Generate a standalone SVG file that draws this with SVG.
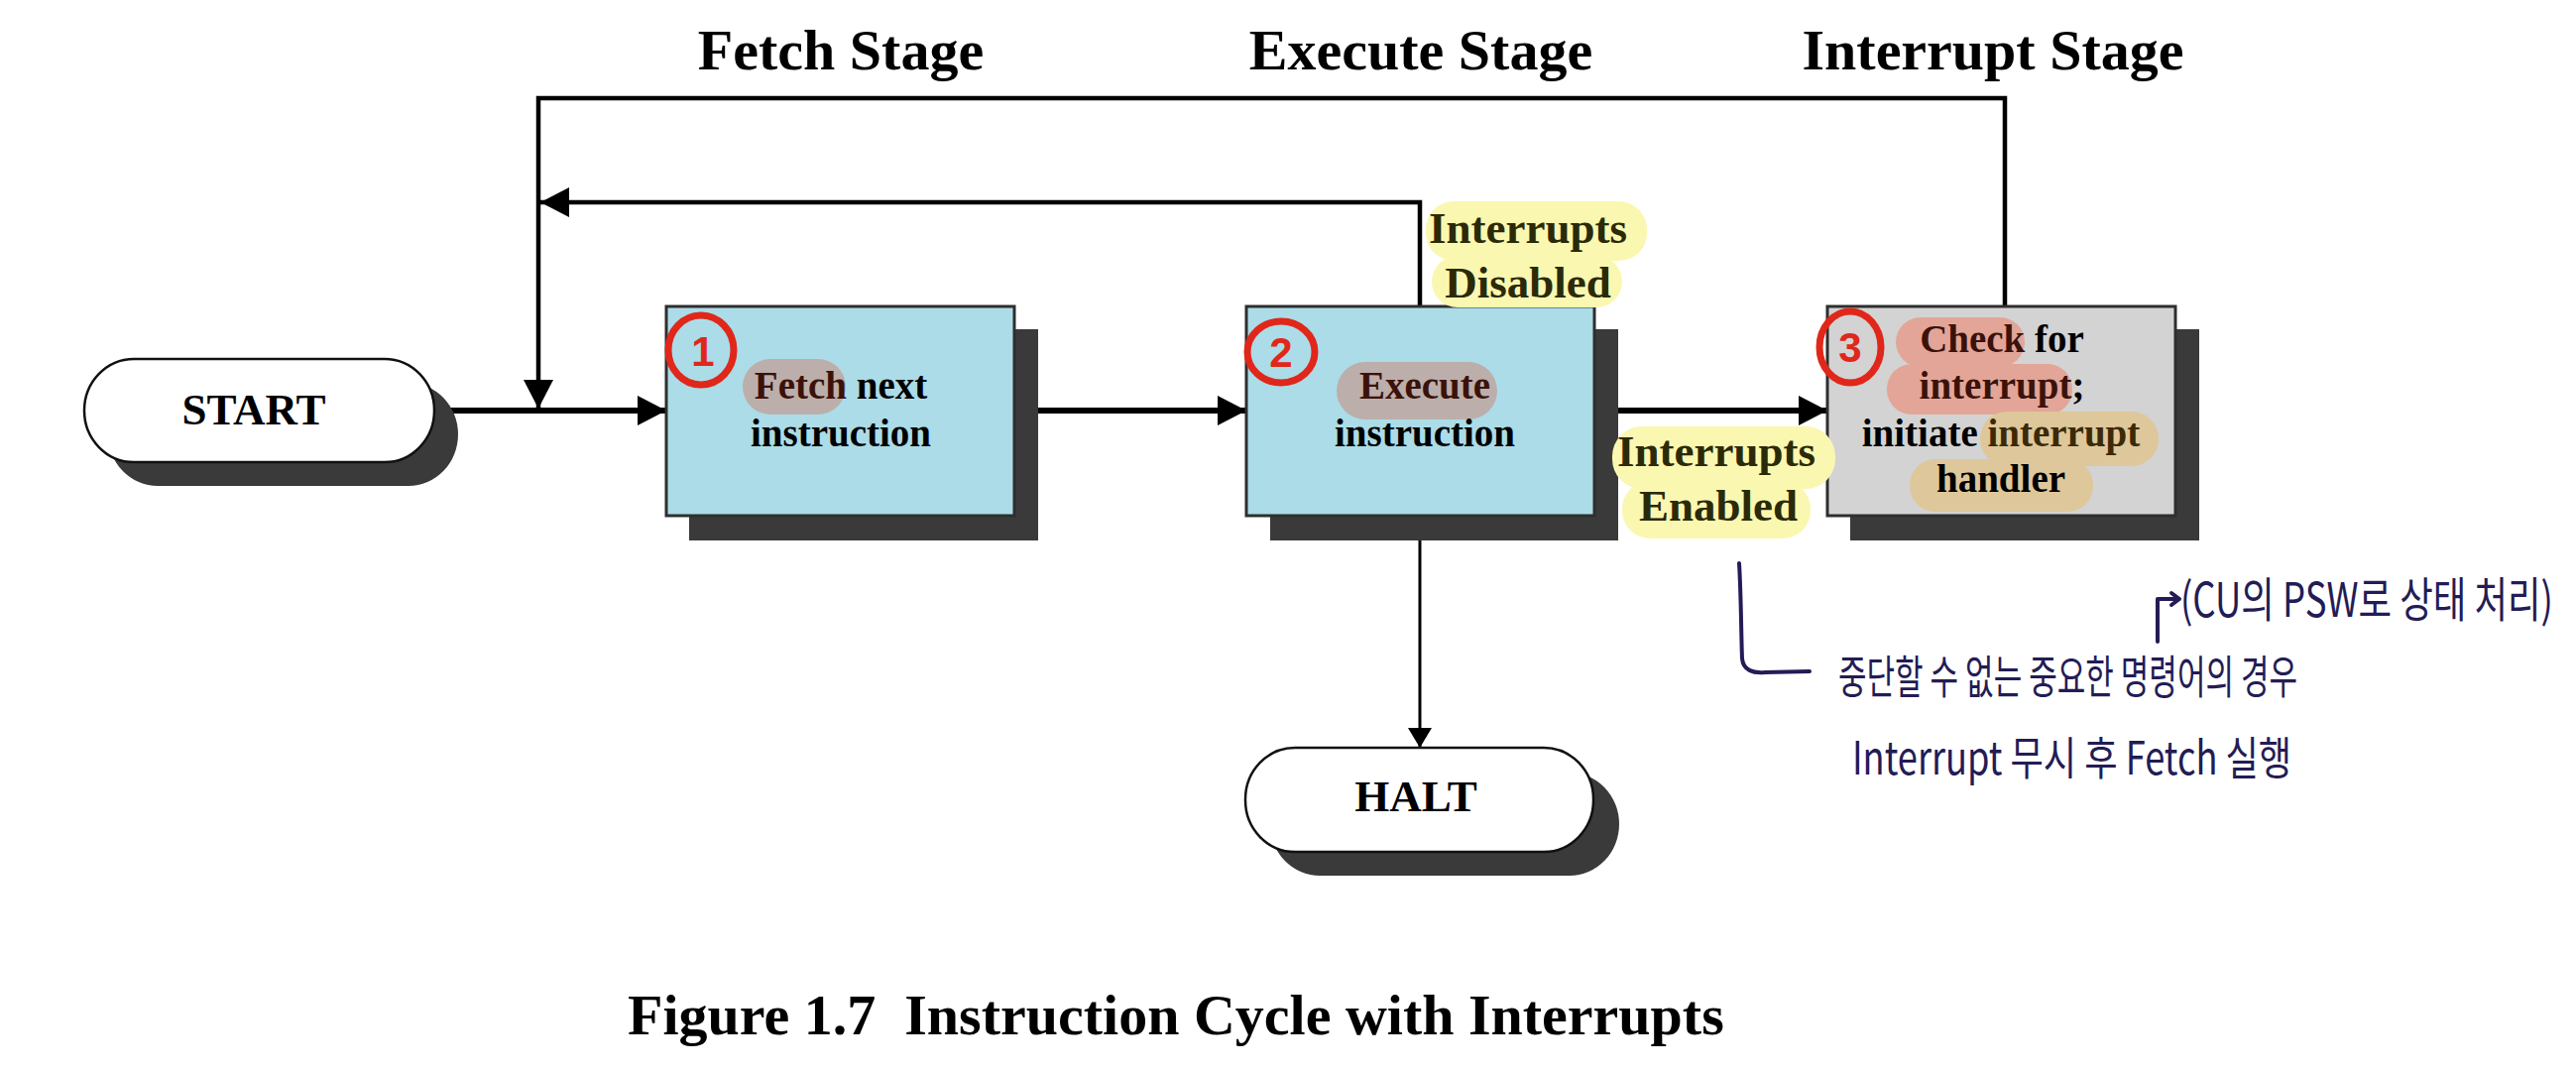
<svg xmlns="http://www.w3.org/2000/svg" width="2598" height="1082" viewBox="0 0 2598 1082">
<style>
.stage{font-family:"Liberation Serif","Times New Roman",serif;font-weight:bold;font-size:58px;fill:#000;text-anchor:middle}
.lbl{font-family:"Liberation Serif","Times New Roman",serif;font-weight:bold;font-size:39px;fill:#000;text-anchor:middle}
.term{font-family:"Liberation Serif","Times New Roman",serif;font-weight:bold;font-size:45px;fill:#000;text-anchor:middle}
.cond{font-family:"Liberation Serif","Times New Roman",serif;font-weight:bold;font-size:45px;fill:#2b2a08;text-anchor:middle}
.cap{font-family:"Liberation Serif","Times New Roman",serif;font-weight:bold;font-size:58px;fill:#000}
.shadow{fill:#3a3a3a}
.boxb{fill:#abdce8;stroke:#2e2e2e;stroke-width:3}
.boxg{fill:#d3d3d3;stroke:#2e2e2e;stroke-width:3}
.termshape{fill:#fff;stroke:#111;stroke-width:2.5}
.hl-brown{fill:#bcaeab}
.hl-red{fill:#e2a598}
.hl-orange{fill:#dec79a}
.hl-yellow{fill:#faf7b0}
.circ{fill:none;stroke:#e0271a;stroke-width:7}
.num{font-family:"Liberation Sans",Arial,sans-serif;font-weight:bold;font-size:42px;fill:#e0271a;text-anchor:middle}
.hand{font-family:"Noto Sans CJK KR","Noto Sans",sans-serif;font-weight:400;fill:#231c55}
.hw{fill:none;stroke:#231c55;stroke-width:4;stroke-linecap:round;stroke-linejoin:round}
.flow{fill:none;stroke:#000;stroke-width:6}
.ret{fill:none;stroke:#000;stroke-width:4.5}
.thin{fill:none;stroke:#000;stroke-width:3}
</style>
<defs>
<marker id="arr" markerUnits="userSpaceOnUse" markerWidth="29" markerHeight="30" refX="29" refY="15" orient="auto">
<path d="M0,0 L29,15 L0,30 Z" fill="#000"/>
</marker>
<marker id="arrS" markerUnits="userSpaceOnUse" markerWidth="20" markerHeight="24" refX="20" refY="12" orient="auto">
<path d="M0,0 L20,12 L0,24 Z" fill="#000"/>
</marker>
</defs>
<rect width="2598" height="1082" fill="#fff"/>

<g id="stage-titles">
<text class="stage" x="848" y="70">Fetch Stage</text>
<text class="stage" x="1433" y="70">Execute Stage</text>
<text class="stage" x="2010" y="70">Interrupt Stage</text>
</g>

<g id="connectors">
<path class="flow" d="M438,414 H672" marker-end="url(#arr)"/>
<path class="flow" d="M1023,414 H1257" marker-end="url(#arr)"/>
<path class="flow" d="M1608,414 H1843" marker-end="url(#arr)"/>
<path class="thin" d="M1432,520 V754" marker-end="url(#arrS)"/>
<path class="ret" d="M1432,309 V204 H545" marker-end="url(#arr)"/>
<path class="ret" d="M2022,309 V99 H543 V412" marker-end="url(#arr)"/>
</g>

<g id="start">
<rect class="shadow" x="109" y="386" width="353" height="104" rx="50" ry="52"/>
<rect class="termshape" x="85" y="362" width="353" height="104" rx="50" ry="52"/>
<text class="term" x="256" y="428">START</text>
</g>

<g id="fetch">
<rect class="shadow" x="695" y="332" width="352" height="213"/>
<rect class="boxb" x="672" y="309" width="351" height="211"/>
<rect class="hl-brown" x="749" y="362" width="104" height="56" rx="28"/>
<text class="lbl" x="848" y="402"><tspan fill="#3b120a">Fetch</tspan> next</text>
<text class="lbl" x="848" y="450">instruction</text>
<ellipse class="circ" cx="707" cy="353" rx="33" ry="35"/>
<text class="num" x="709" y="369">1</text>
</g>

<g id="execute">
<rect class="shadow" x="1281" y="332" width="351" height="213"/>
<rect class="boxb" x="1257" y="309" width="351" height="211"/>
<rect class="hl-brown" x="1348" y="365" width="162" height="58" rx="29"/>
<text class="lbl" x="1437" y="402"><tspan fill="#3b120a">Execute</tspan></text>
<text class="lbl" x="1437" y="450">instruction</text>
<ellipse class="circ" cx="1292" cy="355" rx="34" ry="31"/>
<text class="num" x="1292" y="370">2</text>
</g>

<g id="interrupt">
<rect class="shadow" x="1866" y="332" width="352" height="213"/>
<rect class="boxg" x="1843" y="309" width="351" height="211"/>
<rect class="hl-red" x="1912" y="320" width="130" height="50" rx="25"/>
<rect class="hl-red" x="1903" y="367" width="187" height="51" rx="25"/>
<rect class="hl-orange" x="1997" y="415" width="180" height="55" rx="27"/>
<rect class="hl-orange" x="1926" y="463" width="185" height="53" rx="26"/>
<text class="lbl" x="2019" y="355"><tspan fill="#3b120a">Check</tspan> for</text>
<text class="lbl" x="2019" y="402"><tspan fill="#3b120a">interrupt</tspan>;</text>
<text class="lbl" x="2018" y="450">initiate <tspan fill="#3a2a08">interrupt</tspan></text>
<text class="lbl" x="2018" y="496" fill="#3a2a08">handler</text>
<ellipse class="circ" cx="1866" cy="350" rx="31" ry="36"/>
<text class="num" x="1866" y="365">3</text>
</g>

<g id="halt">
<rect class="shadow" x="1281" y="779" width="352" height="104" rx="50" ry="52"/>
<rect class="termshape" x="1256" y="754" width="351" height="105" rx="50" ry="52"/>
<text class="term" x="1428" y="818">HALT</text>
</g>

<g id="label-disabled">
<rect class="hl-yellow" x="1438" y="203" width="223" height="60" rx="28"/>
<rect class="hl-yellow" x="1444" y="258" width="192" height="52" rx="26"/>
<text class="cond" x="1541" y="245">Interrupts</text>
<text class="cond" x="1541" y="300">Disabled</text>
</g>

<g id="label-enabled">
<rect class="hl-yellow" x="1626" y="430" width="225" height="63" rx="30"/>
<rect class="hl-yellow" x="1636" y="485" width="190" height="58" rx="28"/>
<text class="cond" x="1731" y="470">Interrupts</text>
<text class="cond" x="1733" y="525">Enabled</text>
</g>

<g id="annotations">
<path class="hw" d="M1754,568 C1756,600 1756,640 1757,664 C1758,676 1768,679 1780,678 L1825,677"/>
<text class="hand" transform="translate(1854,699) scale(0.63,1)" x="0" y="0" font-size="46" textLength="735" lengthAdjust="spacingAndGlyphs">중단할 수 없는 중요한 명령어의 경우</text>
<text class="hand" transform="translate(1868,781) scale(0.8,1)" x="0" y="0" font-size="46" textLength="554" lengthAdjust="spacingAndGlyphs">Interrupt 무시 후 Fetch 실행</text>
<path class="hw" d="M2176,647 V604 H2198 M2190,598 L2198,604 L2190,610"/>
<text class="hand" transform="translate(2199,622) scale(0.74,1)" x="0" y="0" font-size="48" textLength="508" lengthAdjust="spacingAndGlyphs">(CU의 PSW로 상태 처리)</text>
</g>

<text class="cap" x="633" y="1043">Figure 1.7<tspan dx="29">Instruction Cycle with Interrupts</tspan></text>
</svg>
